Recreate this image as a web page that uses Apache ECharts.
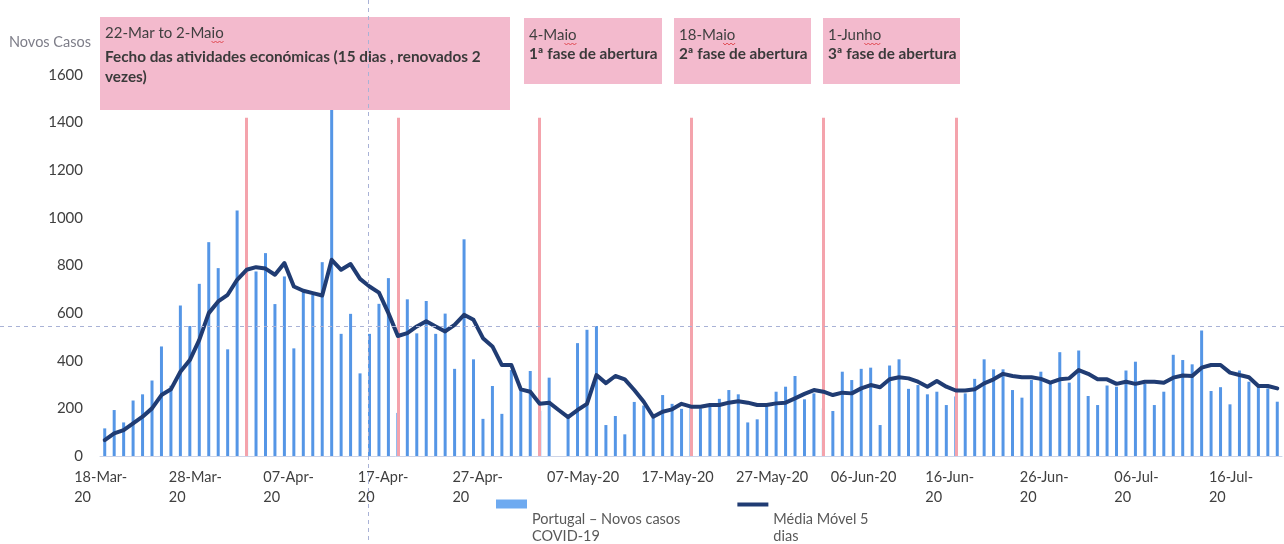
<!DOCTYPE html>
<html>
<head>
<meta charset="utf-8">
<script src="https://cdn.jsdelivr.net/npm/echarts@6/dist/echarts.min.js"></script>
<style>
  html, body { margin: 0; padding: 0; background: #ffffff; }
  #chart { width: 1284px; height: 544px; }
</style>
</head>
<body>
<div id="chart"></div>
<script>
// Daily new COVID-19 cases in Portugal, from 17-Mar-2020, one value per day
const firstDay = Date.UTC(2020, 2, 17);
const dayCount = 125;
const monthNames = ['Jan', 'Feb', 'Mar', 'Apr', 'May', 'Jun', 'Jul', 'Aug', 'Sep', 'Oct', 'Nov', 'Dec'];

const newCases = [
  116, 193, 141, 233, 259, 317, 460, 295, 632, 546,
  723, 898, 789, 448, 1031, 808, 775, 852, 638, 754,
  452, 691, 677, 814, 1516, 513, 597, 347, 513, 639,
  747, 181, 658, 515, 651, 513, 598, 366, 910, 406,
  156, 294, 177, 361, 277, 357, 190, 329, 0, 160,
  474, 530, 546, 130, 168, 91, 227, 212, 160, 256,
  219, 198, 210, 200, 219, 240, 277, 259, 141, 154,
  207, 270, 291, 336, 238, 263, 200, 189, 354, 319,
  366, 371, 130, 380, 406, 282, 298, 259, 270, 214,
  250, 263, 324, 406, 364, 364, 277, 245, 319, 354,
  305, 436, 308, 443, 252, 214, 296, 291, 359, 396,
  303, 214, 270, 425, 403, 385, 527, 273, 289, 217,
  359, 312, 289, 284, 228
];

// 5-day moving average as plotted
const movingAverage = [
  67, 95, 109, 137, 165, 200, 256, 280, 354, 403,
  488, 600, 649, 677, 740, 782, 793, 787, 761, 810,
  712, 694, 684, 674, 824, 782, 806, 744, 712, 686,
  600, 504, 516, 544, 566, 544, 523, 551, 593, 572,
  495, 460, 382, 382, 280, 270, 219, 224, 193, 163,
  193, 219, 340, 306, 336, 322, 277, 228, 165, 186,
  196, 219, 207, 207, 214, 214, 224, 230, 224, 214,
  214, 221, 224, 242, 261, 277, 270, 256, 266, 263,
  284, 298, 289, 322, 331, 326, 312, 291, 315, 291,
  275, 275, 280, 305, 322, 345, 336, 331, 331, 324,
  308, 322, 326, 361, 345, 322, 322, 303, 312, 303,
  312, 312, 308, 329, 338, 336, 371, 382, 382, 350,
  340, 331, 294, 294, 284
];

// Axis tick labels (every 10 days)
const xTickLabels = [
  '18-Mar-\n20', '28-Mar-\n20', '07-Apr-\n20', '17-Apr-\n20', '27-Apr-\n20',
  '07-May-20', '17-May-20', '27-May-20', '06-Jun-20',
  '16-Jun-\n20', '26-Jun-\n20', '06-Jul-\n20', '16-Jul-\n20'
];

// Dates of the measures marked with vertical lines
const eventDays = ['01-Apr-20', '17-Apr-20', '02-May-20', '18-May-20', '01-Jun-20', '15-Jun-20'];
const eventLineTop = 1420;

// Annotation texts
const annotations = [
  { head: '22-Mar to 2-Maio', body: ['Fecho das atividades económicas (15 dias , renovados 2', 'vezes)'] },
  { head: '4-Maio', body: ['1ª fase de abertura'] },
  { head: '18-Maio', body: ['2ª fase de abertura'] },
  { head: '1-Junho', body: ['3ª fase de abertura'] }
];

const barName = 'Portugal – Novos casos\nCOVID-19';
const lineName = 'Média Móvel 5\ndias';

const categories = [];
for (let i = 0; i < dayCount; i++) {
  const d = new Date(firstDay + i * 86400000);
  const dd = String(d.getUTCDate()).padStart(2, '0');
  categories.push(dd + '-' + monthNames[d.getUTCMonth()] + '-20');
}

const tickByDay = {};
xTickLabels.forEach(function (t) { tickByDay[t.replace('\n', '')] = t; });

const FONT = 'Lato, "Open Sans", sans-serif';
const HEAD_FONT = '15px ' + FONT;
const BODY_FONT = 'bold 15.3px ' + FONT;

// Annotation boxes drawn above the plot
const boxes = [
  { x: 100, y: 17, w: 410, h: 93, headDy: 16, bodyDy: 40 },
  { x: 524, y: 18, w: 138, h: 66, headDy: 17, bodyDy: 36 },
  { x: 674, y: 18, w: 137, h: 66, headDy: 17, bodyDy: 36 },
  { x: 823, y: 18, w: 137, h: 66, headDy: 17, bodyDy: 36 }
];

const measureCtx = document.createElement('canvas').getContext('2d');
function textWidth(text, font) { measureCtx.font = font; return measureCtx.measureText(text).width; }

// small wavy underline (spell-check mark) below the last letters of a heading
function squiggle(x1, x2, y) {
  const pts = [];
  let up = true;
  for (let x = x1; x <= x2; x += 2) { pts.push([x, up ? y - 1 : y + 1]); up = !up; }
  return pts;
}

const graphics = [];
annotations.forEach(function (a, k) {
  const b = boxes[k];
  const tx = b.x + 5;
  const hy = b.y + b.headDy;
  graphics.push({ type: 'rect', z: 100, shape: { x: b.x, y: b.y, width: b.w, height: b.h }, style: { fill: '#f3bacd' } });
  graphics.push({ type: 'text', z: 101, x: tx, y: hy,
    style: { text: a.head, font: HEAD_FONT, fill: '#3f3f3f', verticalAlign: 'middle' } });
  const full = textWidth(a.head, HEAD_FONT);
  const part = textWidth(a.head.slice(0, -2), HEAD_FONT);
  graphics.push({ type: 'polyline', z: 102, shape: { points: squiggle(tx + part, tx + full, hy + 9) },
    style: { stroke: '#e0474f', lineWidth: 1, fill: null } });
  a.body.forEach(function (line, j) {
    graphics.push({ type: 'text', z: 101, x: tx, y: b.y + b.bodyDy + j * 20,
      style: { text: line, font: BODY_FONT, fill: '#3a3a3a', verticalAlign: 'middle' } });
  });
});
// light dashed guide lines crossing the figure
graphics.push({ type: 'line', z: 120, shape: { x1: 0, y1: 326.5, x2: 1284, y2: 326.5 },
  style: { stroke: '#a9b2d6', lineWidth: 1, lineDash: [4, 4] } });
graphics.push({ type: 'line', z: 120, shape: { x1: 368.5, y1: 0, x2: 368.5, y2: 544 },
  style: { stroke: '#a9b2d6', lineWidth: 1, lineDash: [4, 4] } });

const chart = echarts.init(document.getElementById('chart'), null, { renderer: 'canvas' });

chart.setOption({
  backgroundColor: '#ffffff',
  animation: false,
  title: {
    text: 'Novos Casos', left: 9, top: 35, padding: 0,
    textStyle: { fontFamily: FONT, fontSize: 14.5, fontWeight: 'normal', color: '#7d7d88' }
  },
  legend: {
    left: 496, top: 482, padding: 0,
    itemWidth: 31, itemHeight: 9, itemGap: 57,
    formatter: function (name) {
      return '{s| }\n' + name.split('\n').map(function (l) { return '{n|' + l + '}'; }).join('\n');
    },
    textStyle: {
      fontFamily: FONT, fontSize: 14.5, color: '#595959',
      rich: {
        s: { lineHeight: 47, fontSize: 10 },
        n: { fontFamily: FONT, fontSize: 14.5, color: '#595959', lineHeight: 17 }
      }
    },
    data: [
      { name: barName, icon: 'rect', itemStyle: { color: '#6eaaf0' } },
      { name: lineName, icon: 'path://M0,0 M0,9 M0,3 L31,3 L31,7 L0,7 Z', itemStyle: { color: '#203c73' } }
    ]
  },
  grid: { left: 100, right: 2, top: 75, bottom: 88, containLabel: false },
  xAxis: {
    type: 'category',
    data: categories,
    axisLine: { lineStyle: { color: '#ccd4e8', width: 1 } },
    axisTick: { show: false },
    axisLabel: {
      interval: function (index, value) { return tickByDay[value] !== undefined; },
      align: 'right',
      margin: 11,
      formatter: function (value) {
        return tickByDay[value].split('\n').map(function (s) { return '{t|' + s + '}'; }).join('\n');
      },
      rich: {
        t: { width: 40, align: 'left', fontFamily: FONT, fontSize: 14.5, color: '#404040', lineHeight: 20 }
      }
    }
  },
  yAxis: {
    type: 'value',
    min: 0, max: 1600, interval: 200,
    axisLine: { show: false },
    axisTick: { show: false },
    splitLine: { show: false },
    axisLabel: {
      margin: 17, fontFamily: FONT, fontSize: 15, color: '#404040',
      formatter: function (v) { return String(v); }
    }
  },
  series: [
    {
      name: barName,
      type: 'bar',
      data: newCases,
      barWidth: 3,
      itemStyle: { color: '#5596e6' },
      z: 2,
      markLine: {
        silent: true,
        symbol: ['none', 'none'],
        label: { show: false },
        lineStyle: { color: '#f4a3ac', width: 3, type: 'solid' },
        data: eventDays.map(function (d) { return [{ coord: [d, 0] }, { coord: [d, eventLineTop] }]; })
      }
    },
    {
      name: lineName,
      type: 'line',
      data: movingAverage,
      symbol: 'none',
      z: 5,
      lineStyle: { color: '#203c73', width: 4, join: 'round', cap: 'round' },
      itemStyle: { color: '#203c73' }
    }
  ],
  graphic: graphics
});
</script>
</body>
</html>
